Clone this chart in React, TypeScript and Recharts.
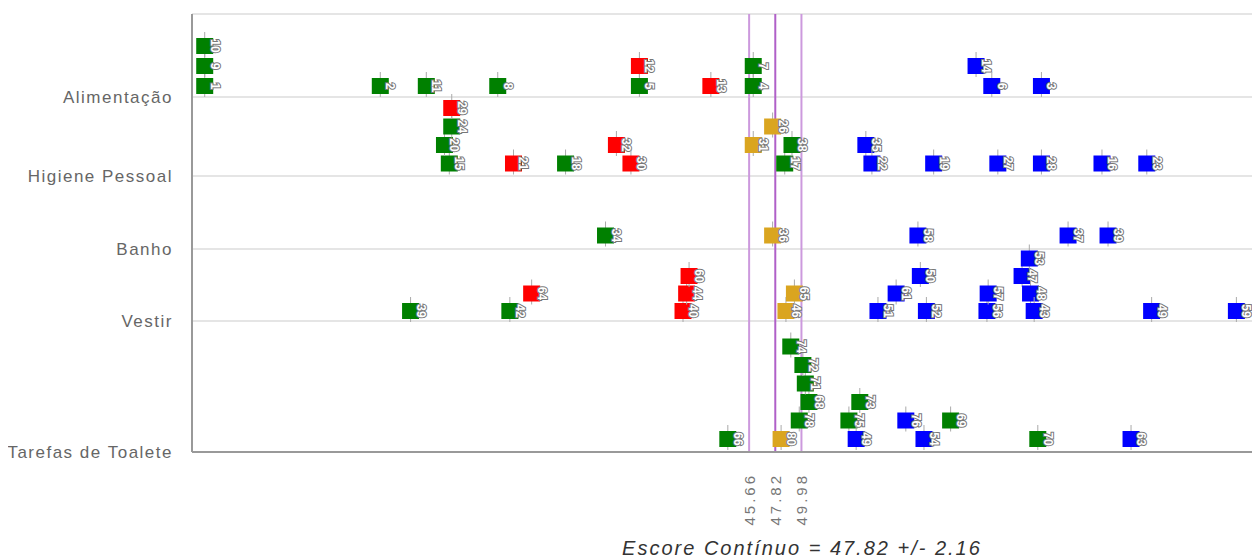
import React from 'react';
import {
  ScatterChart,
  Scatter,
  XAxis,
  YAxis,
  CartesianGrid,
  ReferenceLine,
} from 'recharts';

// categorias do eixo Y (de baixo para cima)
const categorias = ['Tarefas de Toalete', 'Vestir', 'Banho', 'Higiene Pessoal', 'Alimentação'];

// media e limites do escore continuo
const media = 47.82;
const erro = 2.16;
const limites = [45.66, 47.82, 49.98];

// itens por grupo: item, categoria, escore, posicao na pilha
const verde = [
  { item: '1', cat: 'Alimentação', score: 0.7, stack: 0 },
  { item: '9', cat: 'Alimentação', score: 0.7, stack: 1 },
  { item: '10', cat: 'Alimentação', score: 0.7, stack: 2 },
  { item: '2', cat: 'Alimentação', score: 15.2, stack: 0 },
  { item: '11', cat: 'Alimentação', score: 19.0, stack: 0 },
  { item: '8', cat: 'Alimentação', score: 24.9, stack: 0 },
  { item: '5', cat: 'Alimentação', score: 36.6, stack: 0 },
  { item: '4', cat: 'Alimentação', score: 46.0, stack: 0 },
  { item: '7', cat: 'Alimentação', score: 46.0, stack: 1 },
  { item: '15', cat: 'Higiene Pessoal', score: 20.9, stack: 0 },
  { item: '20', cat: 'Higiene Pessoal', score: 20.5, stack: 1 },
  { item: '24', cat: 'Higiene Pessoal', score: 21.1, stack: 2 },
  { item: '18', cat: 'Higiene Pessoal', score: 30.5, stack: 0 },
  { item: '17', cat: 'Higiene Pessoal', score: 48.6, stack: 0 },
  { item: '38', cat: 'Higiene Pessoal', score: 49.2, stack: 1 },
  { item: '34', cat: 'Banho', score: 33.8, stack: 0 },
  { item: '39', cat: 'Vestir', score: 17.7, stack: 0 },
  { item: '42', cat: 'Vestir', score: 25.9, stack: 0 },
  { item: '66', cat: 'Tarefas de Toalete', score: 43.9, stack: 0 },
  { item: '78', cat: 'Tarefas de Toalete', score: 49.8, stack: 1 },
  { item: '68', cat: 'Tarefas de Toalete', score: 50.6, stack: 2 },
  { item: '71', cat: 'Tarefas de Toalete', score: 50.3, stack: 3 },
  { item: '72', cat: 'Tarefas de Toalete', score: 50.1, stack: 4 },
  { item: '74', cat: 'Tarefas de Toalete', score: 49.1, stack: 5 },
  { item: '75', cat: 'Tarefas de Toalete', score: 53.9, stack: 1 },
  { item: '73', cat: 'Tarefas de Toalete', score: 54.8, stack: 2 },
  { item: '69', cat: 'Tarefas de Toalete', score: 62.3, stack: 1 },
  { item: '70', cat: 'Tarefas de Toalete', score: 69.5, stack: 0 },
];

const vermelho = [
  { item: '12', cat: 'Alimentação', score: 36.6, stack: 1 },
  { item: '13', cat: 'Alimentação', score: 42.5, stack: 0 },
  { item: '29', cat: 'Higiene Pessoal', score: 21.1, stack: 3 },
  { item: '21', cat: 'Higiene Pessoal', score: 26.2, stack: 0 },
  { item: '32', cat: 'Higiene Pessoal', score: 34.7, stack: 1 },
  { item: '30', cat: 'Higiene Pessoal', score: 35.9, stack: 0 },
  { item: '64', cat: 'Vestir', score: 27.7, stack: 1 },
  { item: '40', cat: 'Vestir', score: 40.2, stack: 0 },
  { item: '44', cat: 'Vestir', score: 40.5, stack: 1 },
  { item: '60', cat: 'Vestir', score: 40.7, stack: 2 },
];

const dourado = [
  { item: '31', cat: 'Higiene Pessoal', score: 46.0, stack: 1 },
  { item: '26', cat: 'Higiene Pessoal', score: 47.6, stack: 2 },
  { item: '36', cat: 'Banho', score: 47.6, stack: 0 },
  { item: '46', cat: 'Vestir', score: 48.7, stack: 0 },
  { item: '65', cat: 'Vestir', score: 49.4, stack: 1 },
  { item: '80', cat: 'Tarefas de Toalete', score: 48.3, stack: 0 },
];

const azul = [
  { item: '14', cat: 'Alimentação', score: 64.4, stack: 1 },
  { item: '6', cat: 'Alimentação', score: 65.7, stack: 0 },
  { item: '3', cat: 'Alimentação', score: 69.8, stack: 0 },
  { item: '35', cat: 'Higiene Pessoal', score: 55.3, stack: 1 },
  { item: '22', cat: 'Higiene Pessoal', score: 55.8, stack: 0 },
  { item: '19', cat: 'Higiene Pessoal', score: 60.9, stack: 0 },
  { item: '27', cat: 'Higiene Pessoal', score: 66.2, stack: 0 },
  { item: '28', cat: 'Higiene Pessoal', score: 69.8, stack: 0 },
  { item: '16', cat: 'Higiene Pessoal', score: 74.8, stack: 0 },
  { item: '23', cat: 'Higiene Pessoal', score: 78.5, stack: 0 },
  { item: '58', cat: 'Banho', score: 59.6, stack: 0 },
  { item: '37', cat: 'Banho', score: 72.0, stack: 0 },
  { item: '39', cat: 'Banho', score: 75.3, stack: 0 },
  { item: '51', cat: 'Vestir', score: 56.3, stack: 0 },
  { item: '61', cat: 'Vestir', score: 57.8, stack: 1 },
  { item: '50', cat: 'Vestir', score: 59.8, stack: 2 },
  { item: '52', cat: 'Vestir', score: 60.3, stack: 0 },
  { item: '56', cat: 'Vestir', score: 65.3, stack: 0 },
  { item: '57', cat: 'Vestir', score: 65.4, stack: 1 },
  { item: '47', cat: 'Vestir', score: 68.2, stack: 2 },
  { item: '53', cat: 'Vestir', score: 68.8, stack: 3 },
  { item: '48', cat: 'Vestir', score: 68.9, stack: 1 },
  { item: '43', cat: 'Vestir', score: 69.2, stack: 0 },
  { item: '49', cat: 'Vestir', score: 78.9, stack: 0 },
  { item: '59', cat: 'Vestir', score: 85.9, stack: 0 },
  { item: '49', cat: 'Tarefas de Toalete', score: 54.5, stack: 0 },
  { item: '76', cat: 'Tarefas de Toalete', score: 58.6, stack: 1 },
  { item: '54', cat: 'Tarefas de Toalete', score: 60.1, stack: 0 },
  { item: '63', cat: 'Tarefas de Toalete', score: 77.2, stack: 0 },
];

// layout das linhas (em px acima do eixo X)
const baseLinha: Record<string, number> = {
  'Tarefas de Toalete': 0,
  Vestir: 131,
  Banho: 203,
  'Higiene Pessoal': 276,
  'Alimentação': 355,
};
const passoLinha: Record<string, number> = {
  'Tarefas de Toalete': 18.5,
  Vestir: 17.5,
  Banho: 18.5,
  'Higiene Pessoal': 18.5,
  'Alimentação': 20,
};
const desvioLinha: Record<string, number> = {
  'Tarefas de Toalete': 13,
  Vestir: 10,
  Banho: 13.5,
  'Higiene Pessoal': 12.5,
  'Alimentação': 11,
};

const prep = (arr: any[]) =>
  arr.map((d) => ({ ...d, y: baseLinha[d.cat] + desvioLinha[d.cat] + d.stack * passoLinha[d.cat] }));

const cores = { verde: '#008000', vermelho: '#ff0000', dourado: '#daa520', azul: '#0000ff' };

const Marca = (props: any) => {
  const { cx, cy, payload, cor } = props;
  if (cx == null || cy == null) return null;
  return (
    <g>
      <line x1={cx} x2={cx} y1={cy - 14} y2={cy + 11} stroke="#aaa" strokeWidth={1} />
      <rect x={cx - 8.5} y={cy - 8} width={17} height={16} fill={cor} />
      <text
        transform={`translate(${cx + 10},${cy}) rotate(90)`}
        textAnchor="middle"
        dominantBaseline="central"
        fontSize={12}
        fontWeight="bold"
        fill="#fff"
        stroke="#777"
        strokeWidth={2}
        paintOrder="stroke"
      >
        {payload.item}
      </text>
    </g>
  );
};

const TickX = ({ x, y, payload }: any) => (
  <text
    transform={`translate(${x},${y + 19}) rotate(-90)`}
    textAnchor="end"
    dominantBaseline="central"
    fontSize={15}
    letterSpacing={3}
    fill="#777"
  >
    {payload.value.toFixed(2)}
  </text>
);

const Titulo = ({ viewBox }: any) => (
  <text
    x={viewBox.x + viewBox.width / 2 + 76}
    y={viewBox.y + viewBox.height - 5}
    textAnchor="middle"
    fontSize={20}
    fontStyle="italic"
    letterSpacing={2}
    fill="#333"
  >
    {`Escore Contínuo = ${media.toFixed(2)} +/- ${erro.toFixed(2)}`}
  </text>
);

const nomePorBase: Record<number, string> = {};
categorias.forEach((c) => (nomePorBase[baseLinha[c]] = c));

export default function App() {
  return (
    <div style={{ fontFamily: '"Liberation Sans", Arial, sans-serif' }}>
      <ScatterChart width={1252} height={552} margin={{ top: 6, right: 0, bottom: 0, left: 0 }}>
        <CartesianGrid horizontal vertical={false} stroke="#ddd" strokeWidth={1.5} />
        <XAxis
          type="number"
          dataKey="score"
          domain={[-0.35, 87.85]}
          ticks={limites}
          interval={0}
          tick={<TickX />}
          tickLine={false}
          tickSize={0}
          axisLine={{ stroke: '#999', strokeWidth: 2 }}
          height={108}
          label={{ content: <Titulo /> }}
        />
        <YAxis
          type="number"
          dataKey="y"
          domain={[0, 438]}
          ticks={categorias.map((c) => baseLinha[c])}
          interval={0}
          tickFormatter={(v: number) => nomePorBase[v]}
          tickLine={false}
          tickSize={0}
          tickMargin={19}
          axisLine={{ stroke: '#999', strokeWidth: 2 }}
          tick={{ fill: '#666', fontSize: 17, letterSpacing: 1.5 }}
          width={184}
        />
        <Scatter data={prep(verde)} isAnimationActive={false} shape={(p: any) => <Marca {...p} cor={cores.verde} />} />
        <Scatter data={prep(vermelho)} isAnimationActive={false} shape={(p: any) => <Marca {...p} cor={cores.vermelho} />} />
        <Scatter data={prep(dourado)} isAnimationActive={false} shape={(p: any) => <Marca {...p} cor={cores.dourado} />} />
        <Scatter data={prep(azul)} isAnimationActive={false} shape={(p: any) => <Marca {...p} cor={cores.azul} />} />
        <ReferenceLine x={limites[0]} stroke="#cc99dd" strokeWidth={2} />
        <ReferenceLine x={limites[1]} stroke="#b060c8" strokeWidth={2} />
        <ReferenceLine x={limites[2]} stroke="#cc99dd" strokeWidth={2} />
      </ScatterChart>
    </div>
  );
}
